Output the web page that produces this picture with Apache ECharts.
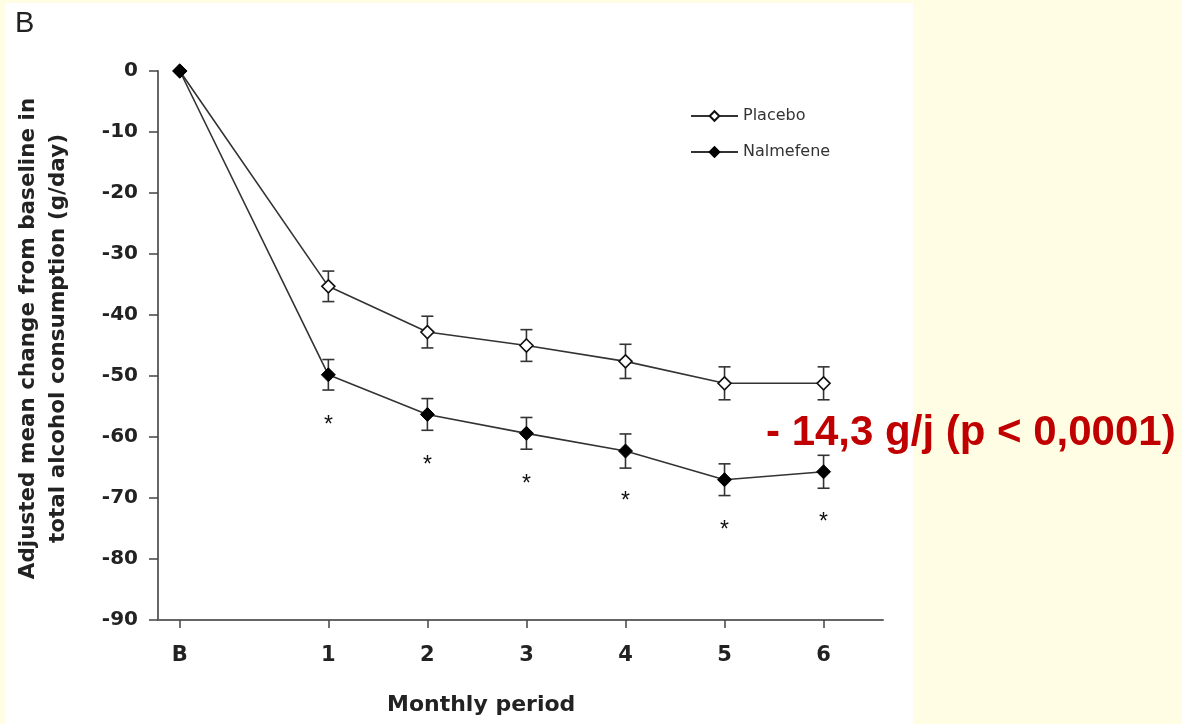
<!DOCTYPE html>
<html>
<head>
<meta charset="utf-8">
<script src="https://cdn.jsdelivr.net/npm/echarts@6/dist/echarts.min.js"></script>
<style>
  html, body { margin: 0; padding: 0; background: #fffde3; }
  #chart { width: 1182px; height: 724px; }
</style>
</head>
<body>
<div id="chart"></div>
<script>
var myChart = echarts.init(document.getElementById('chart'));

// 数据
var months = ['B', '1', '2', '3', '4', '5', '6'];
var monthX = [-0.5, 1, 2, 3, 4, 5, 6];
var placebo = [0, -35.3, -42.8, -45.0, -47.6, -51.2, -51.2];
var placeboErr = [0, 2.5, 2.6, 2.6, 2.8, 2.7, 2.7];
var nalmefene = [0, -49.8, -56.3, -59.4, -62.3, -67.0, -65.7];
var nalmefeneErr = [0, 2.5, 2.6, 2.6, 2.8, 2.6, 2.7];
var signif = ['', '*', '*', '*', '*', '*', '*'];
var yTicks = [0, -10, -20, -30, -40, -50, -60, -70, -80, -90];

var arial = '"Liberation Sans", Arial, sans-serif';
var wide = '"DejaVu Sans", "Liberation Sans", sans-serif';

function pts(vals) {
    return vals.map(function (v, i) { return [monthX[i], v]; });
}
function errData(vals, errs) {
    var out = [];
    for (var i = 0; i < vals.length; i++) {
        if (errs[i] > 0) out.push([monthX[i], vals[i] - errs[i], vals[i] + errs[i]]);
    }
    return out;
}
function renderErr(params, api) {
    var x = api.value(0);
    var lo = api.coord([x, api.value(1)]);
    var hi = api.coord([x, api.value(2)]);
    var w = 6;
    var st = { stroke: '#333', lineWidth: 1.6 };
    return {
        type: 'group',
        children: [
            { type: 'line', shape: { x1: lo[0], y1: lo[1], x2: hi[0], y2: hi[1] }, style: st },
            { type: 'line', shape: { x1: lo[0] - w, y1: lo[1], x2: lo[0] + w, y2: lo[1] }, style: st },
            { type: 'line', shape: { x1: hi[0] - w, y1: hi[1], x2: hi[0] + w, y2: hi[1] }, style: st }
        ]
    };
}

option = {
    backgroundColor: '#fffde3',
    animation: false,
    graphic: [
        { type: 'rect', left: 5, top: 3, shape: { width: 908, height: 721 }, style: { fill: '#ffffff' }, z: -10 },
        { type: 'text', left: 15, top: 9, style: { text: 'B', font: '29px ' + arial, fill: '#222' } },
        { type: 'text', left: 387, top: 694, style: { text: 'Monthly period', font: 'bold 22px ' + wide, fill: '#222' } },
        { type: 'text', left: 766, top: 412, style: { text: '- 14,3 g/j (p < 0,0001)', font: 'bold 42px ' + arial, fill: '#c00000' } }
    ],
    legend: {
        orient: 'vertical',
        left: 690,
        top: 108,
        padding: 0,
        itemGap: 20,
        itemWidth: 47,
        itemHeight: 12,
        data: ['Placebo', 'Nalmefene'],
        textStyle: { fontFamily: wide, fontSize: 16, color: '#333' }
    },
    grid: {
        left: 158,
        right: 299,
        top: 71,
        bottom: 104,
        outerBoundsMode: 'none'
    },
    xAxis: {
        type: 'value',
        min: -0.72,
        max: 6.6,
        splitLine: { show: false },
        axisLine: { onZero: false, lineStyle: { color: '#666', width: 2 } },
        axisTick: { show: true, customValues: monthX, length: 8, lineStyle: { color: '#444', width: 1.5 } },
        axisLabel: {
            customValues: monthX,
            margin: 25,
            fontFamily: wide,
            fontSize: 21,
            fontWeight: 'bold',
            color: '#222',
            formatter: function (v) {
                var i = monthX.indexOf(v);
                return i >= 0 ? months[i] : '';
            }
        }
    },
    yAxis: {
        type: 'value',
        min: -90,
        max: 0,
        interval: 10,
        name: 'Adjusted mean change from baseline in\ntotal alcohol consumption (g/day)',
        nameLocation: 'middle',
        nameGap: 85,
        nameMoveOverlap: false,
        nameTextStyle: { fontFamily: wide, fontSize: 21.5, fontWeight: 'bold', color: '#222', lineHeight: 30, padding: [0, 0, 0, 14] },
        splitLine: { show: false },
        axisLine: { show: true, onZero: false, lineStyle: { color: '#666', width: 2 } },
        axisTick: { show: true, length: 9, lineStyle: { color: '#444', width: 1.5 } },
        axisLabel: {
            margin: 20,
            fontFamily: wide,
            fontSize: 20,
            fontWeight: 'bold',
            color: '#222',
            customValues: yTicks
        }
    },
    series: [
        {
            name: 'Placebo',
            type: 'line',
            data: pts(placebo),
            symbol: 'diamond',
            symbolSize: 13,
            itemStyle: { color: '#ffffff', borderColor: '#111', borderWidth: 1.6 },
            lineStyle: { color: '#333', width: 1.6 },
            z: 3
        },
        {
            name: 'Nalmefene',
            type: 'line',
            data: pts(nalmefene),
            symbol: 'diamond',
            symbolSize: 14,
            itemStyle: { color: '#000', borderColor: '#000', borderWidth: 1 },
            lineStyle: { color: '#333', width: 1.6 },
            label: {
                show: true,
                position: 'bottom',
                distance: 32,
                fontFamily: arial,
                fontSize: 23,
                color: '#111',
                formatter: function (p) { return signif[p.dataIndex]; }
            },
            z: 3
        },
        {
            type: 'custom',
            name: 'placeboErr',
            renderItem: renderErr,
            data: errData(placebo, placeboErr),
            z: 2
        },
        {
            type: 'custom',
            name: 'nalmefeneErr',
            renderItem: renderErr,
            data: errData(nalmefene, nalmefeneErr),
            z: 2
        }
    ]
};
myChart.setOption(option);
</script>
</body>
</html>
